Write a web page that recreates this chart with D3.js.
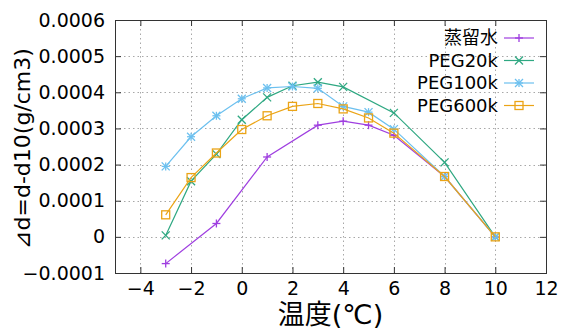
<!DOCTYPE html>
<html>
<head>
<meta charset="utf-8">
<script src="https://cdn.jsdelivr.net/npm/d3@7"></script>
<style>
  body { margin: 0; background: #fff; }
  text { font-family: "DejaVu Sans", "Noto Sans CJK JP", sans-serif; fill: #000; }
</style>
</head>
<body>
<div id="chart"></div>
<script>
// data (temperature in °C, Δd in g/cm3)
const xTicks = [-4, -2, 0, 2, 4, 6, 8, 10, 12];
const yTicks = [-0.0001, 0, 0.0001, 0.0002, 0.0003, 0.0004, 0.0005, 0.0006];

const tempWater = [-3, -1, 1, 3, 4, 5, 6, 8, 10];
const valWater = [-0.000074, 0.000037, 0.000221, 0.000309, 0.00032, 0.000309, 0.000281, 0.000167, 0];

const temp20k = [-3, -2, -1, 0, 1, 2, 3, 4, 6, 8, 10];
const val20k = [0.000004, 0.000154, 0.000229, 0.000324, 0.000386, 0.000418, 0.000428, 0.000415, 0.000343, 0.000206, 0];

const temp100k = [-3, -2, -1, 0, 1, 2, 3, 4, 5, 6, 8, 10];
const val100k = [0.000195, 0.000277, 0.000335, 0.000382, 0.000412, 0.000416, 0.000411, 0.000361, 0.000345, 0.000298, 0.000167, 0];

const temp600k = [-3, -2, -1, 0, 1, 2, 3, 4, 5, 6, 8, 10];
const val600k = [0.000061, 0.000164, 0.000232, 0.000297, 0.000335, 0.000361, 0.000369, 0.000354, 0.000329, 0.000287, 0.000167, 0];

const seriesNames = ["蒸留水", "PEG20k", "PEG100k", "PEG600k"];

const series = [
  { name: seriesNames[0], xs: tempWater, ys: valWater, color: "#9f3fe0", marker: "plus" },
  { name: seriesNames[1], xs: temp20k, ys: val20k, color: "#2fa882", marker: "cross" },
  { name: seriesNames[2], xs: temp100k, ys: val100k, color: "#6cc0ef", marker: "star" },
  { name: seriesNames[3], xs: temp600k, ys: val600k, color: "#eba416", marker: "square" },
];

const width = 566, height = 329;
const margin = { top: 20, right: 20, bottom: 56, left: 115 };

const svg = d3.select("#chart").append("svg")
  .attr("width", width)
  .attr("height", height);

const x = d3.scaleLinear().domain([-5, 12]).range([margin.left, width - margin.right]);
const y = d3.scaleLinear().domain([-0.0001, 0.0006]).range([height - margin.bottom, margin.top]);

const x0 = margin.left, x1 = width - margin.right;
const y0 = height - margin.bottom, y1 = margin.top;
const tickLen = 6;

// grid
const grid = svg.append("g")
  .attr("stroke", "#a8a8a8")
  .attr("stroke-width", 1)
  .attr("stroke-dasharray", "1.5,3");
grid.selectAll("line.gx")
  .data(xTicks.filter((d) => d > -5 && d < 12))
  .join("line")
  .attr("x1", (d) => Math.round(x(d)) + 0.5)
  .attr("x2", (d) => Math.round(x(d)) + 0.5)
  .attr("y1", y1).attr("y2", y0);
grid.selectAll("line.gy")
  .data(yTicks.filter((d) => d > -0.0001 && d < 0.0006))
  .join("line")
  .attr("class", "gy")
  .attr("x1", x0).attr("x2", x1)
  .attr("y1", (d) => Math.round(y(d)) + 0.5)
  .attr("y2", (d) => Math.round(y(d)) + 0.5);

// axes (gnuplot-like: inward ticks, mirrored)
const xAxisB = d3.axisBottom(x).tickValues(xTicks).tickSizeInner(-tickLen).tickSizeOuter(0).tickPadding(9);
const xAxisT = d3.axisTop(x).tickValues(xTicks).tickSizeInner(-tickLen).tickSizeOuter(0).tickFormat("");
const yAxisL = d3.axisLeft(y).tickValues(yTicks).tickSizeInner(-tickLen).tickSizeOuter(0).tickPadding(10)
  .tickFormat((d) => (Math.abs(d) < 1e-12 ? "0" : d3.format(".4f")(d)));
const yAxisR = d3.axisRight(y).tickValues(yTicks).tickSizeInner(-tickLen).tickSizeOuter(0).tickFormat("");

function styleAxis(g) {
  g.select(".domain").remove();
  g.selectAll(".tick line").attr("stroke", "#333");
  g.selectAll(".tick text").style("font-size", "19px").attr("fill", "#000");
}

svg.append("g").attr("transform", `translate(0,${y0})`).call(xAxisB).call(styleAxis);
svg.append("g").attr("transform", `translate(0,${y1})`).call(xAxisT).call(styleAxis);
svg.append("g").attr("transform", `translate(${x0},0)`).call(yAxisL).call(styleAxis);
svg.append("g").attr("transform", `translate(${x1},0)`).call(yAxisR).call(styleAxis);

svg.selectAll("g text").attr("font-family", null);

// border
svg.append("rect")
  .attr("x", x0 + 0.5).attr("y", y1 + 0.5)
  .attr("width", x1 - x0).attr("height", y0 - y1)
  .attr("fill", "none")
  .attr("stroke", "#333")
  .attr("stroke-width", 1);

// markers
function drawMarker(g, type, color, s) {
  const h = s / 2;
  if (type === "plus" || type === "star") {
    g.append("line").attr("x1", -h).attr("x2", h).attr("y1", 0).attr("y2", 0);
    g.append("line").attr("x1", 0).attr("x2", 0).attr("y1", -h).attr("y2", h);
  }
  if (type === "cross" || type === "star") {
    g.append("line").attr("x1", -h).attr("x2", h).attr("y1", -h).attr("y2", h);
    g.append("line").attr("x1", -h).attr("x2", h).attr("y1", h).attr("y2", -h);
  }
  if (type === "square") {
    g.append("rect").attr("x", -h).attr("y", -h).attr("width", s).attr("height", s)
      .attr("fill", "none");
  }
  g.attr("stroke", color).attr("stroke-width", 1.3);
}

const line = d3.line().x((d) => x(d[0])).y((d) => y(d[1]));

series.forEach((s) => {
  const pts = s.xs.map((t, i) => [t, s.ys[i]]);
  const g = svg.append("g");
  g.append("path")
    .datum(pts)
    .attr("d", line)
    .attr("fill", "none")
    .attr("stroke", s.color)
    .attr("stroke-width", 1.2);
  g.selectAll("g.pt")
    .data(pts)
    .join("g")
    .attr("class", "pt")
    .attr("transform", (d) => `translate(${x(d[0])},${y(d[1])})`)
    .each(function () { drawMarker(d3.select(this), s.marker, s.color, 8); });
});

// legend
const legend = svg.append("g");
const legendRows = [38, 60.5, 83, 105.5];
series.forEach((s, i) => {
  const row = legend.append("g").attr("transform", `translate(0,${legendRows[i]})`);
  row.append("text")
    .attr("x", 498).attr("y", 0)
    .attr("dy", "0.36em")
    .attr("text-anchor", "end")
    .style("font-size", "18px")
    .text(s.name);
  row.append("line")
    .attr("x1", 504).attr("x2", 534)
    .attr("y1", 0).attr("y2", 0)
    .attr("stroke", s.color).attr("stroke-width", 1.2);
  drawMarker(row.append("g").attr("transform", "translate(519,0)"), s.marker, s.color, 8);
});

// axis titles
svg.append("text")
  .attr("x", (x0 + x1) / 2).attr("y", 324)
  .attr("text-anchor", "middle")
  .style("font-size", "27px")
  .text("温度(℃)");

svg.append("text")
  .attr("transform", `translate(30,${(y0 + y1) / 2 + 2}) rotate(-90)`)
  .attr("text-anchor", "middle")
  .style("font-size", "22px")
  .text("⊿d=d-d10(g/cm3)");
</script>
</body>
</html>
